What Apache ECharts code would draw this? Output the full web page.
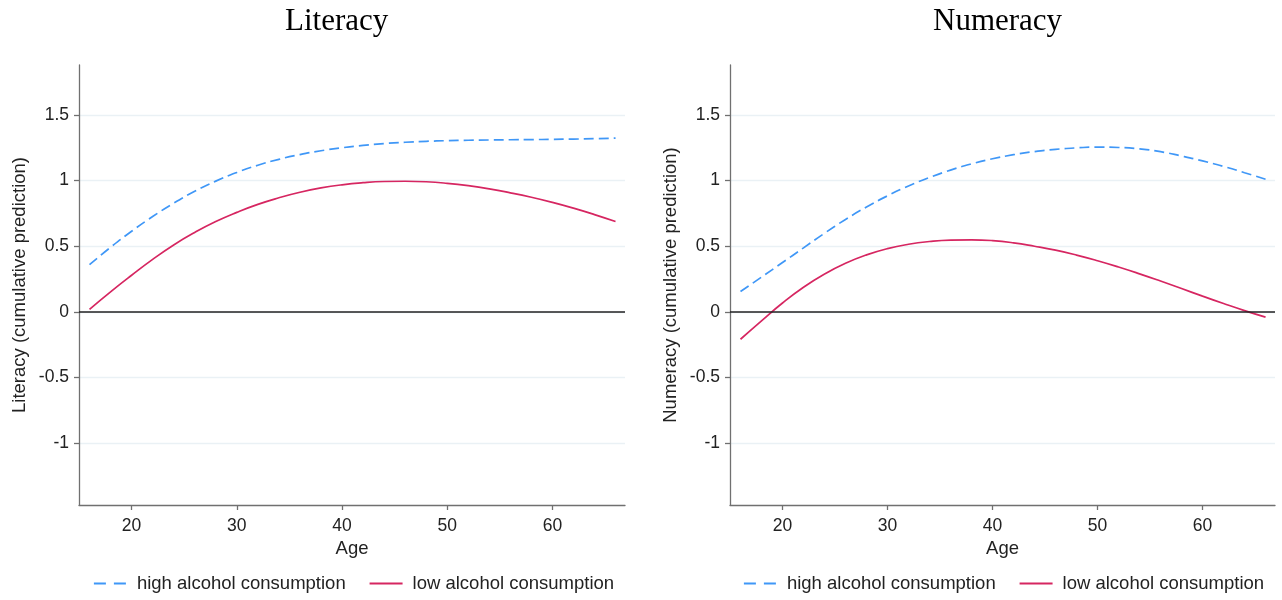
<!DOCTYPE html>
<html>
<head>
<meta charset="utf-8">
<script src="https://cdn.jsdelivr.net/npm/echarts@6/dist/echarts.min.js"></script>
<style>
html,body{margin:0;padding:0;background:#fff;}
#chart{width:1282px;height:600px;}
</style>
</head>
<body>
<div id="chart"></div>
<script>
// ---- data ----
const ages = [16,18,20,22,24,26,28,30,32,34,36,38,40,42,44,46,48,50,52,54,56,58,60,62,64,66];
const litHigh = [0.36,0.492,0.614,0.726,0.828,0.918,0.996,1.062,1.117,1.162,1.198,1.227,1.25,1.268,1.282,1.292,1.299,1.304,1.307,1.309,1.311,1.312,1.314,1.316,1.319,1.323];
const litLow  = [0.02,0.153,0.279,0.40,0.51,0.605,0.688,0.758,0.819,0.869,0.911,0.944,0.968,0.984,0.993,0.995,0.991,0.979,0.961,0.937,0.907,0.873,0.834,0.79,0.741,0.688];
const numHigh = [0.155,0.265,0.376,0.488,0.599,0.704,0.799,0.884,0.959,1.024,1.08,1.127,1.166,1.197,1.221,1.238,1.249,1.255,1.252,1.241,1.22,1.187,1.15,1.108,1.06,1.01];
const numLow  = [-0.208,-0.068,0.068,0.188,0.288,0.37,0.434,0.482,0.515,0.536,0.547,0.549,0.543,0.526,0.5,0.47,0.433,0.39,0.342,0.29,0.235,0.178,0.12,0.064,0.01,-0.04];
const xTicks = [20,30,40,50,60];
const yTicks = [-1,-0.5,0,0.5,1,1.5];
const panelTitles = ['Literacy','Numeracy'];
const yNames = ['Literacy (cumulative prediction)','Numeracy (cumulative prediction)'];
const xName = 'Age';
const seriesNames = ['high alcohol consumption','low alcohol consumption'];

const BLUE = '#3f97f7', RED = '#d62661';
const font = 'Liberation Sans, Arial, sans-serif';
const pair = arr => ages.map((a,i)=>[a,arr[i]]);

const grids = [
  {left:79, top:65, width:546, height:440},
  {left:730, top:65, width:545, height:440}
];

function xAxis(gi){
  return {
    type:'value', gridIndex:gi, min:15, max:66.9,
    name:xName, nameLocation:'middle', nameGap:34,
    nameTextStyle:{fontFamily:font, fontSize:18.5, color:'#222'},
    axisLine:{show:true, onZero:false, lineStyle:{color:'#707070', width:1.3}},
    axisTick:{show:true, length:5, customValues:xTicks, lineStyle:{color:'#707070', width:1.3}},
    axisLabel:{customValues:xTicks, margin:12, fontFamily:font, fontSize:17.5, color:'#222'},
    splitLine:{show:false}
  };
}
function yAxis(gi){
  return {
    type:'value', gridIndex:gi, min:-1.47, max:1.88,
    name:yNames[gi], nameLocation:'middle', nameGap:50,
    nameTextStyle:{fontFamily:font, fontSize:18.5, color:'#222'},
    axisLine:{show:true, onZero:false, lineStyle:{color:'#707070', width:1.3}},
    axisTick:{show:true, length:5, customValues:yTicks, lineStyle:{color:'#707070', width:1.3}},
    axisLabel:{customValues:yTicks, margin:10, fontFamily:font, fontSize:17.5, color:'#222'},
    splitLine:{show:true, lineStyle:{color:'#eaf1f5', width:1.3}}
  };
}
const zeroLine = {
  silent:true, symbol:'none', label:{show:false},
  lineStyle:{color:'#222', width:1.5, type:'solid'},
  data:[{yAxis:0}]
};
function line(name, data, gi, color, dashed, mark){
  const s = {
    type:'line', name:name, xAxisIndex:gi, yAxisIndex:gi,
    data:data, smooth:0.5, symbol:'none', showSymbol:false,
    lineStyle:{color:color, width:1.7, type: dashed ? [10,5] : 'solid'},
    itemStyle:{color:color}, z:3
  };
  if (mark) s.markLine = zeroLine;
  return s;
}
function legend(left){
  return {left:left, top:569, itemWidth:33, itemHeight:14, itemGap:23,
    data:[
      {name:seriesNames[0], lineStyle:{type:[12,8], width:1.8, color:BLUE, opacity:1}},
      {name:seriesNames[1], lineStyle:{width:1.8, color:RED, opacity:1}}
    ],
    itemStyle:{color:'transparent', borderWidth:0},
    textStyle:{fontFamily:font, fontSize:18.5, color:'#222', padding:[0,0,0,5]}};
}

const titleStyle = {fontFamily:'Liberation Serif, Times New Roman, serif', fontSize:31, fontWeight:'normal', color:'#000'};
const option = {
  backgroundColor:'#fff',
  animation:false,
  title:[
    {text:panelTitles[0], left:285, top:6, padding:0, textStyle:titleStyle},
    {text:panelTitles[1], left:933, top:6, padding:0, textStyle:titleStyle}
  ],
  grid:grids,
  xAxis:[xAxis(0), xAxis(1)],
  yAxis:[yAxis(0), yAxis(1)],
  legend:[legend(88), legend(738)],
  series:[
    line(seriesNames[0], pair(litHigh), 0, BLUE, true, true),
    line(seriesNames[1], pair(litLow), 0, RED, false, false),
    line(seriesNames[0], pair(numHigh), 1, BLUE, true, true),
    line(seriesNames[1], pair(numLow), 1, RED, false, false)
  ]
};
const chart = echarts.init(document.getElementById('chart'), null, {renderer:'canvas'});
chart.setOption(option);
</script>
</body>
</html>
